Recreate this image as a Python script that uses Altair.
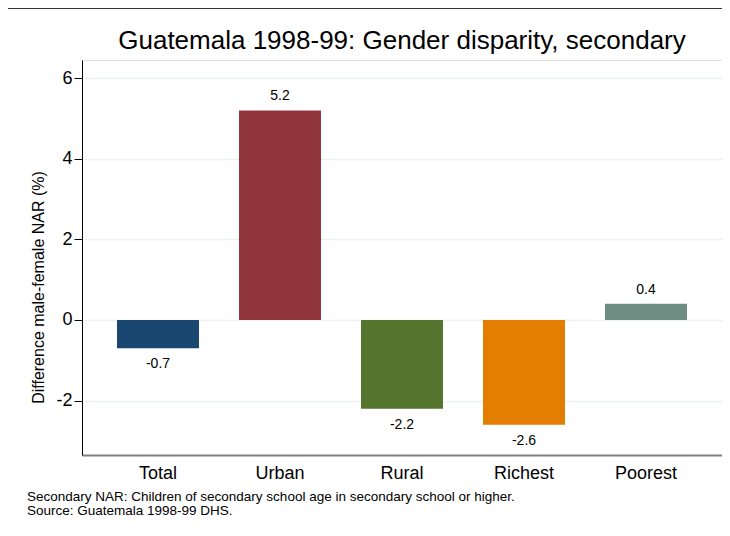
import altair as alt
import pandas as pd

categories = ["Total", "Urban", "Rural", "Richest", "Poorest"]
values = [-0.7, 5.2, -2.2, -2.6, 0.4]
colors = ["#1a476f", "#90353b", "#55752f", "#e37e00", "#6e8e84"]
y_ticks = [-2, 0, 2, 4, 6]
title_text = "Guatemala 1998-99: Gender disparity, secondary"
y_title = "Difference male-female NAR (%)"
notes = [
    "Secondary NAR: Children of secondary school age in secondary school or higher.",
    "Source: Guatemala 1998-99 DHS.",
]

FONT = "Liberation Sans"

df = pd.DataFrame({"cat": categories, "val": values,
                   "label": [f"{v:.1f}" for v in values]})
notes_df = pd.DataFrame({"note": ["\n".join(notes)], "title": [title_text]})

x_enc = alt.X("cat:N", sort=categories,
              scale=alt.Scale(paddingInner=0.328, paddingOuter=0.287),
              axis=alt.Axis(title=None, labelAngle=0, ticks=False,
                            domainColor="#808080", domainWidth=2,
                            labelFontSize=18, labelPadding=9,
                            labelColor="black", labelFont=FONT))
y_scale = alt.Scale(domain=[-3.35, 6.45], nice=False, zero=False)
y_enc = alt.Y("val:Q", scale=y_scale,
              axis=alt.Axis(title=y_title, values=y_ticks,
                            labelExpr="toString(datum.value)",
                            grid=True, gridColor="#eaf2f3", gridWidth=1.5,
                            domainColor="black", domainWidth=1,
                            tickColor="black", tickSize=8,
                            labelFontSize=18, labelColor="black",
                            labelFont=FONT, labelPadding=2,
                            titleFont=FONT, titleFontSize=16,
                            titleFontWeight="normal", titleColor="black",
                            titlePadding=9, titleY=227))

base = alt.Chart(df)

bars = base.mark_bar().encode(
    x=x_enc, y=y_enc,
    color=alt.Color("cat:N", sort=categories,
                    scale=alt.Scale(domain=categories, range=colors),
                    legend=None),
)

pos_labels = base.transform_filter("datum.val >= 0").mark_text(
    baseline="bottom", dy=-7, fontSize=14, font=FONT, color="black"
).encode(x=alt.X("cat:N", sort=categories), y=alt.Y("val:Q"), text="label:N")

neg_labels = base.transform_filter("datum.val < 0").mark_text(
    baseline="top", dy=9, fontSize=14, font=FONT, color="black"
).encode(x=alt.X("cat:N", sort=categories), y=alt.Y("val:Q"), text="label:N")

note_text = alt.Chart(notes_df).mark_text(
    align="left", baseline="alphabetic", fontSize=13.5, font=FONT,
    color="black", lineBreak="\n", lineHeight=14
).encode(x=alt.value(-55), y=alt.value(441), text="note:N")

title_mark = alt.Chart(notes_df).mark_text(
    align="center", baseline="alphabetic", fontSize=26, font=FONT,
    color="black"
).encode(x=alt.value(320), y=alt.value(-11), text="title:N")

frame_top = alt.Chart(notes_df).mark_rule(color="#333333", strokeWidth=2).encode(
    x=alt.value(-76), x2=alt.value(700), y=alt.value(-52))
frame_left = alt.Chart(notes_df).mark_rule(color="#888888", strokeWidth=2).encode(
    x=alt.value(-76), y=alt.value(-52), y2=alt.value(475))

chart = alt.layer(
    bars, pos_labels, neg_labels, note_text, title_mark, frame_top, frame_left
).properties(
    width=640, height=395,
    autosize=alt.AutoSizeParams(type="none"),
    padding={"left": 74, "top": 52, "right": 0, "bottom": 73},
).configure_view(stroke=None).configure(background="white")

chart.save("out.html", embed_options={"renderer": "svg", "actions": False})
